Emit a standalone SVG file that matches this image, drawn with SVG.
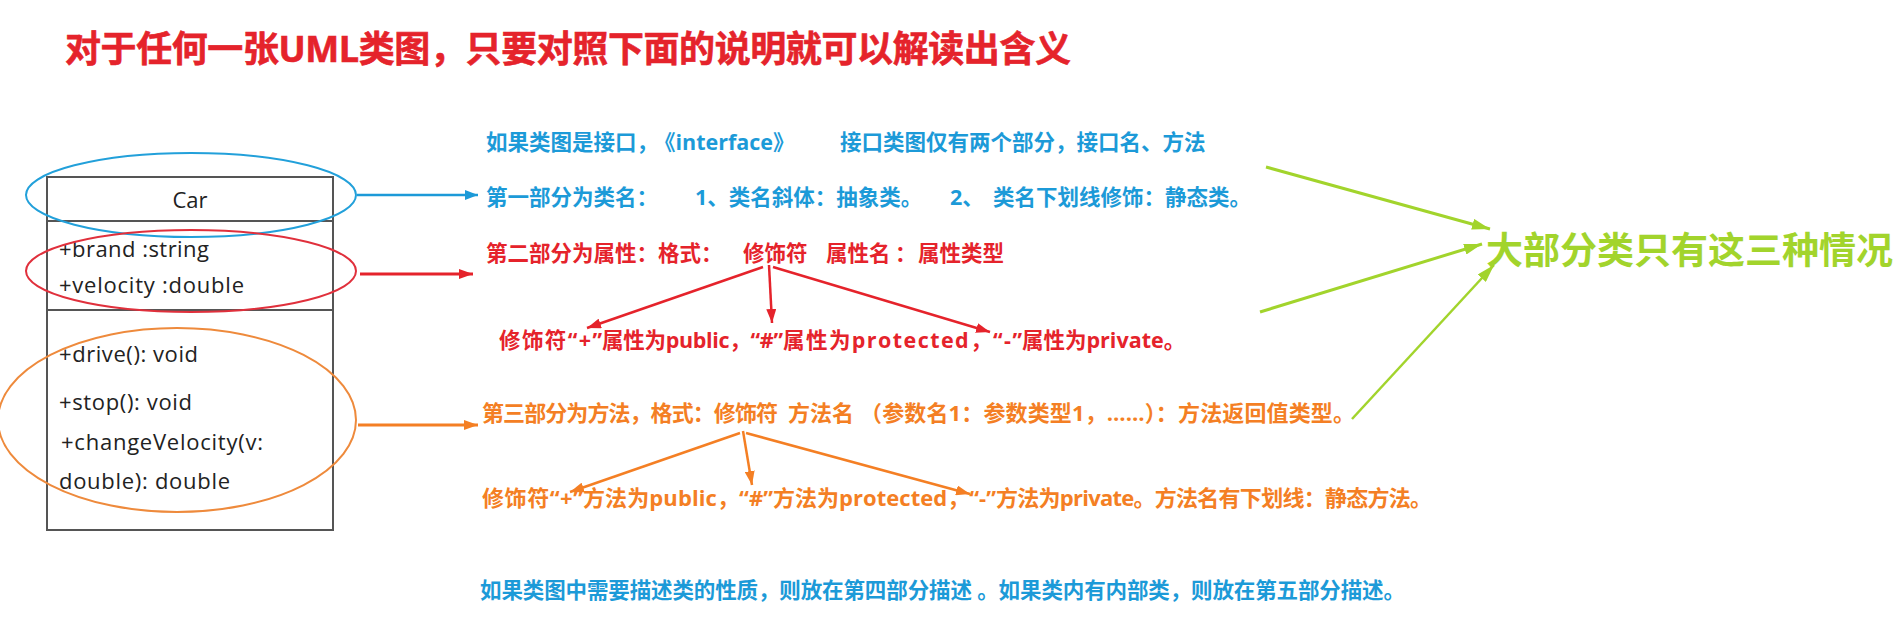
<svg xmlns="http://www.w3.org/2000/svg" width="1897" height="641" viewBox="0 0 1897 641">
<style>
.cjk{font-family:"Open Sans","Noto Sans CJK SC",sans-serif;font-weight:bold}
.blue{fill:#1c9ad8}
.red{fill:#e5232b}
.orange{fill:#f47f24}
.green{fill:#a2d42c}
.uml{font-family:"Open Sans","Noto Sans CJK SC",sans-serif;font-size:22px;fill:#222}
.box{fill:#fff;stroke:#555;stroke-width:2}
.div{stroke:#555;stroke-width:2}
</style>
<defs>
<marker id="mb" markerUnits="userSpaceOnUse" markerWidth="13" markerHeight="10" refX="13" refY="5" orient="auto"><path d="M0,0 L13,5 L0,10 z" fill="#1c9ad8"/></marker>
<marker id="mr" markerUnits="userSpaceOnUse" markerWidth="14" markerHeight="10" refX="14" refY="5" orient="auto"><path d="M0,0 L14,5 L0,10 z" fill="#e5232b"/></marker>
<marker id="mo" markerUnits="userSpaceOnUse" markerWidth="14" markerHeight="10" refX="14" refY="5" orient="auto"><path d="M0,0 L14,5 L0,10 z" fill="#f47f24"/></marker>
<marker id="mg" markerUnits="userSpaceOnUse" markerWidth="18" markerHeight="11" refX="18" refY="5.5" orient="auto"><path d="M0,0 L18,5.5 L0,11 z" fill="#a2d42c"/></marker>
</defs>
<rect width="1897" height="641" fill="#fff"/>

<g id="title">
<text class="cjk red" x="65" y="62" font-size="36" textLength="1006" stroke="#e5232b" stroke-width="0.6">对于任何一张UML类图，只要对照下面的说明就可以解读出含义</text>
</g>

<g id="uml-class">
<rect class="box" x="47" y="177" width="286" height="353"/>
<line class="div" x1="47" y1="221" x2="333" y2="221"/>
<line class="div" x1="47" y1="310" x2="333" y2="310"/>
<text class="uml" x="190" y="208" font-size="23" text-anchor="middle">Car</text>
<text class="uml" x="59" y="257" textLength="150">+brand :string</text>
<text class="uml" x="59" y="293" textLength="185">+velocity :double</text>
<text class="uml" x="59" y="362" textLength="139">+drive(): void</text>
<text class="uml" x="59" y="410" textLength="133">+stop(): void</text>
<text class="uml" x="61" y="450" textLength="202">+changeVelocity(v:</text>
<text class="uml" x="59" y="489" textLength="171">double): double</text>
</g>

<g id="ellipses" fill="none" stroke-width="2">
<ellipse id="ell-name" cx="191" cy="195" rx="165" ry="42" stroke="#22a0da"/>
<ellipse id="ell-attr" cx="191" cy="271" rx="165" ry="41" stroke="#e0303c"/>
<ellipse id="ell-method" cx="177" cy="420" rx="179" ry="92" stroke="#ee8a3c"/>
</g>

<g id="connectors" fill="none">
<line x1="357" y1="195" x2="478" y2="195" stroke="#1c9ad8" stroke-width="2.5" marker-end="url(#mb)"/>
<line x1="360" y1="274" x2="473" y2="274" stroke="#e5232b" stroke-width="3" marker-end="url(#mr)"/>
<line x1="358" y1="425" x2="478" y2="425" stroke="#f47f24" stroke-width="3" marker-end="url(#mo)"/>
<line x1="763" y1="267" x2="587" y2="328" stroke="#e5232b" stroke-width="2.5" marker-end="url(#mr)"/>
<line x1="769" y1="265" x2="772" y2="323" stroke="#e5232b" stroke-width="2.5" marker-end="url(#mr)"/>
<line x1="773" y1="267" x2="990" y2="332" stroke="#e5232b" stroke-width="2.5" marker-end="url(#mr)"/>
<line x1="740" y1="433" x2="570" y2="492" stroke="#f47f24" stroke-width="2.5" marker-end="url(#mo)"/>
<line x1="743" y1="431" x2="752" y2="485" stroke="#f47f24" stroke-width="2.5" marker-end="url(#mo)"/>
<line x1="746" y1="433" x2="970" y2="494" stroke="#f47f24" stroke-width="2.5" marker-end="url(#mo)"/>
<line x1="1266" y1="167" x2="1490" y2="229" stroke="#a2d42c" stroke-width="3" marker-end="url(#mg)"/>
<line x1="1260" y1="312" x2="1482" y2="244" stroke="#a2d42c" stroke-width="3" marker-end="url(#mg)"/>
<line x1="1352" y1="419" x2="1494" y2="265" stroke="#a2d42c" stroke-width="2.5" marker-end="url(#mg)"/>
</g>

<g id="interface-note">
<text class="cjk blue" y="150" font-size="21.5"><tspan x="486">如果类图是接口，</tspan><tspan x="654">《interface》</tspan><tspan x="840">接口类图仅有两个部分，接口名、方法</tspan></text>
</g>

<g id="part1">
<text class="cjk blue" y="205" font-size="21.5"><tspan x="486">第一部分为类名：</tspan><tspan x="695">1、类名斜体：抽象类。</tspan><tspan x="950">2、</tspan><tspan x="993">类名下划线修饰：静态类。</tspan></text>
</g>

<g id="part2">
<text class="cjk red" y="261" font-size="21.5"><tspan x="486">第二部分为属性：格式：</tspan><tspan x="743">修饰符</tspan><tspan x="826">属性名</tspan><tspan x="895">：</tspan><tspan x="918">属性类型</tspan></text>
</g>

<g id="attr-modifiers">
<text class="cjk red" y="348" font-size="21.5"><tspan x="499" textLength="103">修饰符“+”</tspan><tspan x="602" textLength="181">属性为public，“#”</tspan><tspan x="783" textLength="239">属性为protected，“-”</tspan><tspan x="1022">属性为private。</tspan></text>
</g>

<g id="part3">
<text class="cjk orange" y="421" font-size="22"><tspan x="482" textLength="296">第三部分为方法，格式：修饰符</tspan><tspan x="788" textLength="66">方法名</tspan><tspan x="860" textLength="495">（参数名1：参数类型1，……）：方法返回值类型。</tspan></text>
</g>

<g id="method-modifiers">
<text class="cjk orange" y="506" font-size="22"><tspan x="482" textLength="101">修饰符“+”</tspan><tspan x="583" textLength="190">方法为public，“#”</tspan><tspan x="773" textLength="223">方法为protected，“-”</tspan><tspan x="996" textLength="436">方法为private。方法名有下划线：静态方法。</tspan></text>
</g>

<g id="part4-5">
<text class="cjk blue" x="480" y="598" font-size="21.5" textLength="925">如果类图中需要描述类的性质，则放在第四部分描述 。如果类内有内部类，则放在第五部分描述。</text>
</g>

<g id="summary">
<text class="cjk green" x="1486" y="264" font-size="37">大部分类只有这三种情况</text>
</g>
</svg>
